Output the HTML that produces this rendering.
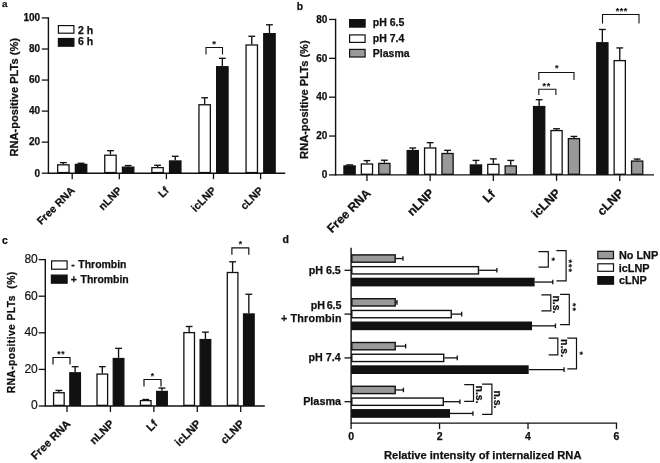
<!DOCTYPE html>
<html lang="en">
<head>
<meta charset="utf-8">
<title>RNA-positive PLTs figure</title>
<style>
html,body{margin:0;padding:0;background:#fff;}
body{width:660px;height:463px;overflow:hidden;}
svg{display:block;}
svg text{font-family:"Liberation Sans",sans-serif;font-weight:700;fill:#111;stroke:#111;stroke-width:0.25px;}
</style>
</head>
<body>
<svg width="660" height="463" viewBox="0 0 660 463">
<rect x="0" y="0" width="660" height="463" fill="#fff"/>
<text x="2.1" y="7.3" font-size="9.8" text-anchor="start">a</text>
<line x1="63.35" y1="164.2" x2="63.35" y2="162.64" stroke="#111" stroke-width="1.35"/>
<line x1="59.95" y1="162.64" x2="66.75" y2="162.64" stroke="#111" stroke-width="1.35"/>
<rect x="57.65" y="164.85" width="11.4" height="7.7" fill="#fff" stroke="#111" stroke-width="1.3"/>
<line x1="81.05" y1="163.73" x2="81.05" y2="163.26" stroke="#111" stroke-width="1.35"/>
<line x1="77.65" y1="163.26" x2="84.45" y2="163.26" stroke="#111" stroke-width="1.35"/>
<rect x="75.35" y="164.38" width="11.4" height="8.17" fill="#111" stroke="#111" stroke-width="1.3"/>
<line x1="110.45" y1="154.57" x2="110.45" y2="150.69" stroke="#111" stroke-width="1.35"/>
<line x1="107.05" y1="150.69" x2="113.85" y2="150.69" stroke="#111" stroke-width="1.35"/>
<rect x="104.75" y="155.22" width="11.4" height="17.33" fill="#fff" stroke="#111" stroke-width="1.3"/>
<line x1="128.15" y1="166.52" x2="128.15" y2="165.59" stroke="#111" stroke-width="1.35"/>
<line x1="124.75" y1="165.59" x2="131.55" y2="165.59" stroke="#111" stroke-width="1.35"/>
<rect x="122.45" y="167.17" width="11.4" height="5.38" fill="#111" stroke="#111" stroke-width="1.3"/>
<line x1="157.55" y1="166.99" x2="157.55" y2="165.28" stroke="#111" stroke-width="1.35"/>
<line x1="154.15" y1="165.28" x2="160.95" y2="165.28" stroke="#111" stroke-width="1.35"/>
<rect x="151.85" y="167.64" width="11.4" height="4.91" fill="#fff" stroke="#111" stroke-width="1.3"/>
<line x1="175.25" y1="160.31" x2="175.25" y2="156.28" stroke="#111" stroke-width="1.35"/>
<line x1="171.85" y1="156.28" x2="178.65" y2="156.28" stroke="#111" stroke-width="1.35"/>
<rect x="169.55" y="160.96" width="11.4" height="11.59" fill="#111" stroke="#111" stroke-width="1.3"/>
<line x1="204.65" y1="104.11" x2="204.65" y2="97.75" stroke="#111" stroke-width="1.35"/>
<line x1="201.25" y1="97.75" x2="208.05" y2="97.75" stroke="#111" stroke-width="1.35"/>
<rect x="198.95" y="104.76" width="11.4" height="67.79" fill="#fff" stroke="#111" stroke-width="1.3"/>
<line x1="222.35" y1="66.08" x2="222.35" y2="58.31" stroke="#111" stroke-width="1.35"/>
<line x1="218.95" y1="58.31" x2="225.75" y2="58.31" stroke="#111" stroke-width="1.35"/>
<rect x="216.65" y="66.73" width="11.4" height="105.82" fill="#111" stroke="#111" stroke-width="1.3"/>
<line x1="251.75" y1="44.34" x2="251.75" y2="36.27" stroke="#111" stroke-width="1.35"/>
<line x1="248.35" y1="36.27" x2="255.15" y2="36.27" stroke="#111" stroke-width="1.35"/>
<rect x="246.05" y="44.99" width="11.4" height="127.56" fill="#fff" stroke="#111" stroke-width="1.3"/>
<line x1="269.45" y1="33.01" x2="269.45" y2="24.78" stroke="#111" stroke-width="1.35"/>
<line x1="266.05" y1="24.78" x2="272.85" y2="24.78" stroke="#111" stroke-width="1.35"/>
<rect x="263.75" y="33.66" width="11.4" height="138.89" fill="#111" stroke="#111" stroke-width="1.3"/>
<line x1="48.4" y1="17.3" x2="48.4" y2="173.85" stroke="#111" stroke-width="1.4"/>
<line x1="48.4" y1="173.2" x2="285.2" y2="173.2" stroke="#111" stroke-width="1.4"/>
<line x1="41.8" y1="173.2" x2="48.4" y2="173.2" stroke="#111" stroke-width="1.3"/>
<text x="40.1" y="176.5" font-size="10" text-anchor="end">0</text>
<line x1="41.8" y1="142.15" x2="48.4" y2="142.15" stroke="#111" stroke-width="1.3"/>
<text x="40.1" y="145.45" font-size="10" text-anchor="end">20</text>
<line x1="41.8" y1="111.1" x2="48.4" y2="111.1" stroke="#111" stroke-width="1.3"/>
<text x="40.1" y="114.4" font-size="10" text-anchor="end">40</text>
<line x1="41.8" y1="80.05" x2="48.4" y2="80.05" stroke="#111" stroke-width="1.3"/>
<text x="40.1" y="83.35" font-size="10" text-anchor="end">60</text>
<line x1="41.8" y1="49" x2="48.4" y2="49" stroke="#111" stroke-width="1.3"/>
<text x="40.1" y="52.3" font-size="10" text-anchor="end">80</text>
<line x1="41.8" y1="17.95" x2="48.4" y2="17.95" stroke="#111" stroke-width="1.3"/>
<text x="40.1" y="21.25" font-size="10" text-anchor="end">100</text>
<line x1="72.2" y1="173.2" x2="72.2" y2="179.2" stroke="#111" stroke-width="1.3"/>
<text x="75.4" y="191.2" font-size="10.6" text-anchor="end" transform="rotate(-45 75.4 191.2)">Free RNA</text>
<line x1="119.3" y1="173.2" x2="119.3" y2="179.2" stroke="#111" stroke-width="1.3"/>
<text x="122.5" y="191.2" font-size="10.6" text-anchor="end" transform="rotate(-45 122.5 191.2)">nLNP</text>
<line x1="166.4" y1="173.2" x2="166.4" y2="179.2" stroke="#111" stroke-width="1.3"/>
<text x="169.6" y="191.2" font-size="10.6" text-anchor="end" transform="rotate(-45 169.6 191.2)">Lf</text>
<line x1="213.5" y1="173.2" x2="213.5" y2="179.2" stroke="#111" stroke-width="1.3"/>
<text x="216.7" y="191.2" font-size="10.6" text-anchor="end" transform="rotate(-45 216.7 191.2)">icLNP</text>
<line x1="260.6" y1="173.2" x2="260.6" y2="179.2" stroke="#111" stroke-width="1.3"/>
<text x="263.8" y="191.2" font-size="10.6" text-anchor="end" transform="rotate(-45 263.8 191.2)">cLNP</text>
<text x="17.8" y="97.3" font-size="11.1" text-anchor="middle" transform="rotate(-90 17.8 97.3)">RNA-positive PLTs (%)</text>
<rect x="58.4" y="25.6" width="15.5" height="7.6" fill="#fff" stroke="#111" stroke-width="1.2"/>
<rect x="58.4" y="38.5" width="15.5" height="7.7" fill="#111" stroke="#111" stroke-width="1.2"/>
<text x="78" y="33.5" font-size="10.5" text-anchor="start">2 h</text>
<text x="78" y="45.3" font-size="10.5" text-anchor="start">6 h</text>
<path d="M206 54.5 V47.5 H222.5 V54.5" fill="none" stroke="#111" stroke-width="1.1"/>
<text x="212.15" y="46.85" font-size="9.5" style="stroke-width:0.12px;letter-spacing:0.3px">*</text>
<text x="296.8" y="9.6" font-size="10.3" text-anchor="start">b</text>
<line x1="349.55" y1="165.28" x2="349.55" y2="164.89" stroke="#111" stroke-width="1.35"/>
<line x1="346.15" y1="164.89" x2="352.95" y2="164.89" stroke="#111" stroke-width="1.35"/>
<rect x="343.95" y="165.93" width="11.2" height="8.32" fill="#111" stroke="#111" stroke-width="1.3"/>
<line x1="366.95" y1="163.34" x2="366.95" y2="160.62" stroke="#111" stroke-width="1.35"/>
<line x1="363.55" y1="160.62" x2="370.35" y2="160.62" stroke="#111" stroke-width="1.35"/>
<rect x="361.35" y="163.99" width="11.2" height="10.26" fill="#fff" stroke="#111" stroke-width="1.3"/>
<line x1="384.35" y1="162.76" x2="384.35" y2="160.23" stroke="#111" stroke-width="1.35"/>
<line x1="380.95" y1="160.23" x2="387.75" y2="160.23" stroke="#111" stroke-width="1.35"/>
<rect x="378.75" y="163.41" width="11.2" height="10.84" fill="#999" stroke="#111" stroke-width="1.3"/>
<line x1="412.75" y1="149.93" x2="412.75" y2="147.99" stroke="#111" stroke-width="1.35"/>
<line x1="409.35" y1="147.99" x2="416.15" y2="147.99" stroke="#111" stroke-width="1.35"/>
<rect x="407.15" y="150.58" width="11.2" height="23.67" fill="#111" stroke="#111" stroke-width="1.3"/>
<line x1="430.15" y1="147.31" x2="430.15" y2="142.65" stroke="#111" stroke-width="1.35"/>
<line x1="426.75" y1="142.65" x2="433.55" y2="142.65" stroke="#111" stroke-width="1.35"/>
<rect x="424.55" y="147.96" width="11.2" height="26.29" fill="#fff" stroke="#111" stroke-width="1.3"/>
<line x1="447.55" y1="152.85" x2="447.55" y2="150.32" stroke="#111" stroke-width="1.35"/>
<line x1="444.15" y1="150.32" x2="450.95" y2="150.32" stroke="#111" stroke-width="1.35"/>
<rect x="441.95" y="153.5" width="11.2" height="20.75" fill="#999" stroke="#111" stroke-width="1.3"/>
<line x1="475.95" y1="164.31" x2="475.95" y2="160.42" stroke="#111" stroke-width="1.35"/>
<line x1="472.55" y1="160.42" x2="479.35" y2="160.42" stroke="#111" stroke-width="1.35"/>
<rect x="470.35" y="164.96" width="11.2" height="9.29" fill="#111" stroke="#111" stroke-width="1.3"/>
<line x1="493.35" y1="163.73" x2="493.35" y2="158.87" stroke="#111" stroke-width="1.35"/>
<line x1="489.95" y1="158.87" x2="496.75" y2="158.87" stroke="#111" stroke-width="1.35"/>
<rect x="487.75" y="164.38" width="11.2" height="9.87" fill="#fff" stroke="#111" stroke-width="1.3"/>
<line x1="510.75" y1="165.28" x2="510.75" y2="160.42" stroke="#111" stroke-width="1.35"/>
<line x1="507.35" y1="160.42" x2="514.15" y2="160.42" stroke="#111" stroke-width="1.35"/>
<rect x="505.15" y="165.93" width="11.2" height="8.32" fill="#999" stroke="#111" stroke-width="1.3"/>
<line x1="539.15" y1="105.92" x2="539.15" y2="99.71" stroke="#111" stroke-width="1.35"/>
<line x1="535.75" y1="99.71" x2="542.55" y2="99.71" stroke="#111" stroke-width="1.35"/>
<rect x="533.55" y="106.57" width="11.2" height="67.68" fill="#111" stroke="#111" stroke-width="1.3"/>
<line x1="556.55" y1="129.92" x2="556.55" y2="128.75" stroke="#111" stroke-width="1.35"/>
<line x1="553.15" y1="128.75" x2="559.95" y2="128.75" stroke="#111" stroke-width="1.35"/>
<rect x="550.95" y="130.57" width="11.2" height="43.68" fill="#fff" stroke="#111" stroke-width="1.3"/>
<line x1="573.95" y1="137.98" x2="573.95" y2="136.43" stroke="#111" stroke-width="1.35"/>
<line x1="570.55" y1="136.43" x2="577.35" y2="136.43" stroke="#111" stroke-width="1.35"/>
<rect x="568.35" y="138.63" width="11.2" height="35.62" fill="#999" stroke="#111" stroke-width="1.3"/>
<line x1="602.35" y1="42.1" x2="602.35" y2="29.47" stroke="#111" stroke-width="1.35"/>
<line x1="598.95" y1="29.47" x2="605.75" y2="29.47" stroke="#111" stroke-width="1.35"/>
<rect x="596.75" y="42.75" width="11.2" height="131.5" fill="#111" stroke="#111" stroke-width="1.3"/>
<line x1="619.75" y1="59.97" x2="619.75" y2="47.92" stroke="#111" stroke-width="1.35"/>
<line x1="616.35" y1="47.92" x2="623.15" y2="47.92" stroke="#111" stroke-width="1.35"/>
<rect x="614.15" y="60.62" width="11.2" height="113.63" fill="#fff" stroke="#111" stroke-width="1.3"/>
<line x1="637.15" y1="160.42" x2="637.15" y2="159.06" stroke="#111" stroke-width="1.35"/>
<line x1="633.75" y1="159.06" x2="640.55" y2="159.06" stroke="#111" stroke-width="1.35"/>
<rect x="631.55" y="161.07" width="11.2" height="13.18" fill="#999" stroke="#111" stroke-width="1.3"/>
<line x1="335.6" y1="18.81" x2="335.6" y2="175.55" stroke="#111" stroke-width="1.4"/>
<line x1="335.6" y1="174.9" x2="654" y2="174.9" stroke="#111" stroke-width="1.4"/>
<line x1="329" y1="174.9" x2="335.6" y2="174.9" stroke="#111" stroke-width="1.3"/>
<text x="327.3" y="178.2" font-size="10" text-anchor="end">0</text>
<line x1="329" y1="136.04" x2="335.6" y2="136.04" stroke="#111" stroke-width="1.3"/>
<text x="327.3" y="139.34" font-size="10" text-anchor="end">20</text>
<line x1="329" y1="97.18" x2="335.6" y2="97.18" stroke="#111" stroke-width="1.3"/>
<text x="327.3" y="100.48" font-size="10" text-anchor="end">40</text>
<line x1="329" y1="58.32" x2="335.6" y2="58.32" stroke="#111" stroke-width="1.3"/>
<text x="327.3" y="61.62" font-size="10" text-anchor="end">60</text>
<line x1="329" y1="19.46" x2="335.6" y2="19.46" stroke="#111" stroke-width="1.3"/>
<text x="327.3" y="22.76" font-size="10" text-anchor="end">80</text>
<line x1="366.95" y1="174.9" x2="366.95" y2="180.9" stroke="#111" stroke-width="1.3"/>
<text x="371.65" y="193.9" font-size="12.3" text-anchor="end" transform="rotate(-45 371.65 193.9)">Free RNA</text>
<line x1="430.15" y1="174.9" x2="430.15" y2="180.9" stroke="#111" stroke-width="1.3"/>
<text x="434.85" y="193.9" font-size="12.3" text-anchor="end" transform="rotate(-45 434.85 193.9)">nLNP</text>
<line x1="493.35" y1="174.9" x2="493.35" y2="180.9" stroke="#111" stroke-width="1.3"/>
<text x="495.85" y="195.1" font-size="12.3" text-anchor="end" transform="rotate(-45 495.85 195.1)">Lf</text>
<line x1="556.55" y1="174.9" x2="556.55" y2="180.9" stroke="#111" stroke-width="1.3"/>
<text x="561.25" y="193.9" font-size="12.3" text-anchor="end" transform="rotate(-45 561.25 193.9)">icLNP</text>
<line x1="619.75" y1="174.9" x2="619.75" y2="180.9" stroke="#111" stroke-width="1.3"/>
<text x="624.45" y="193.9" font-size="12.3" text-anchor="end" transform="rotate(-45 624.45 193.9)">cLNP</text>
<text x="307.8" y="99.6" font-size="11.1" text-anchor="middle" transform="rotate(-90 307.8 99.6)">RNA-positive PLTs (%)</text>
<rect x="349.6" y="19.6" width="15.5" height="7.5" fill="#111" stroke="#111" stroke-width="1.2"/>
<rect x="349.6" y="34.9" width="15.5" height="7.5" fill="#fff" stroke="#111" stroke-width="1.2"/>
<rect x="349.6" y="49.4" width="15.5" height="7.6" fill="#999" stroke="#111" stroke-width="1.2"/>
<text x="372.8" y="26.4" font-size="10.5" text-anchor="start">pH 6.5</text>
<text x="372.8" y="41.5" font-size="10.5" text-anchor="start">pH 7.4</text>
<text x="372.8" y="56.6" font-size="10.5" text-anchor="start">Plasma</text>
<path d="M538.8 94.9 V89.2 H555.9 V94.9" fill="none" stroke="#111" stroke-width="1.1"/>
<text x="542.6" y="89.25" font-size="9" style="stroke-width:0.12px;letter-spacing:0.6px">**</text>
<path d="M538.8 80 V72.5 H574 V80" fill="none" stroke="#111" stroke-width="1.1"/>
<text x="554.95" y="71.25" font-size="9" style="stroke-width:0.12px;letter-spacing:0.6px">*</text>
<path d="M602.5 23.5 V14.5 H639 V23.5" fill="none" stroke="#111" stroke-width="1.1"/>
<text x="615.65" y="13.7" font-size="9" style="stroke-width:0.12px;letter-spacing:0.6px">***</text>
<text x="2" y="244.2" font-size="10.5" text-anchor="start">c</text>
<line x1="58.88" y1="392.09" x2="58.88" y2="390.44" stroke="#111" stroke-width="1.35"/>
<line x1="55.48" y1="390.44" x2="62.27" y2="390.44" stroke="#111" stroke-width="1.35"/>
<rect x="53.57" y="392.74" width="10.6" height="12.61" fill="#fff" stroke="#111" stroke-width="1.3"/>
<line x1="75.12" y1="372.14" x2="75.12" y2="366.65" stroke="#111" stroke-width="1.35"/>
<line x1="71.72" y1="366.65" x2="78.53" y2="366.65" stroke="#111" stroke-width="1.35"/>
<rect x="69.83" y="372.79" width="10.6" height="32.56" fill="#111" stroke="#111" stroke-width="1.3"/>
<line x1="102.31" y1="373.43" x2="102.31" y2="366.65" stroke="#111" stroke-width="1.35"/>
<line x1="98.91" y1="366.65" x2="105.71" y2="366.65" stroke="#111" stroke-width="1.35"/>
<rect x="97.01" y="374.08" width="10.6" height="31.27" fill="#fff" stroke="#111" stroke-width="1.3"/>
<line x1="118.56" y1="357.87" x2="118.56" y2="348.36" stroke="#111" stroke-width="1.35"/>
<line x1="115.16" y1="348.36" x2="121.96" y2="348.36" stroke="#111" stroke-width="1.35"/>
<rect x="113.26" y="358.52" width="10.6" height="46.83" fill="#111" stroke="#111" stroke-width="1.3"/>
<line x1="145.74" y1="399.96" x2="145.74" y2="399.5" stroke="#111" stroke-width="1.35"/>
<line x1="142.34" y1="399.5" x2="149.14" y2="399.5" stroke="#111" stroke-width="1.35"/>
<rect x="140.44" y="400.61" width="10.6" height="4.74" fill="#fff" stroke="#111" stroke-width="1.3"/>
<line x1="161.99" y1="390.81" x2="161.99" y2="388.07" stroke="#111" stroke-width="1.35"/>
<line x1="158.59" y1="388.07" x2="165.39" y2="388.07" stroke="#111" stroke-width="1.35"/>
<rect x="156.69" y="391.46" width="10.6" height="13.89" fill="#111" stroke="#111" stroke-width="1.3"/>
<line x1="189.16" y1="331.98" x2="189.16" y2="326.49" stroke="#111" stroke-width="1.35"/>
<line x1="185.76" y1="326.49" x2="192.56" y2="326.49" stroke="#111" stroke-width="1.35"/>
<rect x="183.87" y="332.63" width="10.6" height="72.72" fill="#fff" stroke="#111" stroke-width="1.3"/>
<line x1="205.41" y1="338.93" x2="205.41" y2="332.16" stroke="#111" stroke-width="1.35"/>
<line x1="202.01" y1="332.16" x2="208.81" y2="332.16" stroke="#111" stroke-width="1.35"/>
<rect x="200.12" y="339.58" width="10.6" height="65.77" fill="#111" stroke="#111" stroke-width="1.3"/>
<line x1="232.59" y1="271.86" x2="232.59" y2="261.8" stroke="#111" stroke-width="1.35"/>
<line x1="229.19" y1="261.8" x2="236" y2="261.8" stroke="#111" stroke-width="1.35"/>
<rect x="227.3" y="272.51" width="10.6" height="132.84" fill="#fff" stroke="#111" stroke-width="1.3"/>
<line x1="248.84" y1="313.31" x2="248.84" y2="294.28" stroke="#111" stroke-width="1.35"/>
<line x1="245.44" y1="294.28" x2="252.25" y2="294.28" stroke="#111" stroke-width="1.35"/>
<rect x="243.55" y="313.96" width="10.6" height="91.39" fill="#111" stroke="#111" stroke-width="1.3"/>
<line x1="45.3" y1="258.95" x2="45.3" y2="406.65" stroke="#111" stroke-width="1.4"/>
<line x1="45.3" y1="406" x2="264.8" y2="406" stroke="#111" stroke-width="1.4"/>
<line x1="38.7" y1="406" x2="45.3" y2="406" stroke="#111" stroke-width="1.3"/>
<text x="37.8" y="409.48" font-size="12" text-anchor="end" style="font-weight:400;stroke-width:0.2px">0</text>
<line x1="38.7" y1="369.4" x2="45.3" y2="369.4" stroke="#111" stroke-width="1.3"/>
<text x="37.8" y="372.88" font-size="12" text-anchor="end" style="font-weight:400;stroke-width:0.2px">20</text>
<line x1="38.7" y1="332.8" x2="45.3" y2="332.8" stroke="#111" stroke-width="1.3"/>
<text x="37.8" y="336.28" font-size="12" text-anchor="end" style="font-weight:400;stroke-width:0.2px">40</text>
<line x1="38.7" y1="296.2" x2="45.3" y2="296.2" stroke="#111" stroke-width="1.3"/>
<text x="37.8" y="299.68" font-size="12" text-anchor="end" style="font-weight:400;stroke-width:0.2px">60</text>
<line x1="38.7" y1="259.6" x2="45.3" y2="259.6" stroke="#111" stroke-width="1.3"/>
<text x="37.8" y="263.08" font-size="12" text-anchor="end" style="font-weight:400;stroke-width:0.2px">80</text>
<line x1="67" y1="406" x2="67" y2="412" stroke="#111" stroke-width="1.3"/>
<text x="71.3" y="424.5" font-size="11.1" text-anchor="end" transform="rotate(-45 71.3 424.5)">Free RNA</text>
<line x1="110.43" y1="406" x2="110.43" y2="412" stroke="#111" stroke-width="1.3"/>
<text x="114.73" y="424.5" font-size="11.1" text-anchor="end" transform="rotate(-45 114.73 424.5)">nLNP</text>
<line x1="153.86" y1="406" x2="153.86" y2="412" stroke="#111" stroke-width="1.3"/>
<text x="158.16" y="424.5" font-size="11.1" text-anchor="end" transform="rotate(-45 158.16 424.5)">Lf</text>
<line x1="197.29" y1="406" x2="197.29" y2="412" stroke="#111" stroke-width="1.3"/>
<text x="201.59" y="424.5" font-size="11.1" text-anchor="end" transform="rotate(-45 201.59 424.5)">icLNP</text>
<line x1="240.72" y1="406" x2="240.72" y2="412" stroke="#111" stroke-width="1.3"/>
<text x="245.02" y="424.5" font-size="11.1" text-anchor="end" transform="rotate(-45 245.02 424.5)">cLNP</text>
<text x="14.7" y="332.4" font-size="10.3" text-anchor="middle" transform="rotate(-90 14.7 332.4)" style="letter-spacing:0.41px">RNA-positive PLTs&#160;&#160;(%)</text>
<rect x="51.6" y="260.9" width="15.5" height="8.3" fill="#fff" stroke="#111" stroke-width="1.2"/>
<rect x="51.4" y="275.1" width="15.7" height="8.1" fill="#111" stroke="#111" stroke-width="1.2"/>
<text x="71.2" y="267.6" font-size="10.45" text-anchor="start" style="word-spacing:0.8px">- Thrombin</text>
<text x="70.8" y="282.8" font-size="10.45" text-anchor="start" style="word-spacing:0.8px">+ Thrombin</text>
<path d="M53 364.5 V357.5 H70 V364.5" fill="none" stroke="#111" stroke-width="1.2"/>
<text x="57.35" y="357.05" font-size="8.5" style="stroke-width:0.12px;letter-spacing:0.69px">**</text>
<path d="M144 386.5 V379.5 H161 V386.5" fill="none" stroke="#111" stroke-width="1.2"/>
<text x="150.85" y="378.75" font-size="8.5" style="stroke-width:0.12px;letter-spacing:0.69px">*</text>
<path d="M231.9 254.8 V247.9 H248.8 V254.8" fill="none" stroke="#111" stroke-width="1.2"/>
<text x="238.85" y="247.05" font-size="8.5" style="stroke-width:0.12px;letter-spacing:0.69px">*</text>
<text x="282.5" y="243.2" font-size="10.5" text-anchor="start">d</text>
<line x1="395.9" y1="258.55" x2="402.98" y2="258.55" stroke="#111" stroke-width="1.3"/>
<line x1="402.98" y1="256.25" x2="402.98" y2="260.85" stroke="#111" stroke-width="1.3"/>
<rect x="351.8" y="254.9" width="43.4" height="7.3" fill="#999" stroke="#111" stroke-width="1.4"/>
<line x1="479.19" y1="270.3" x2="496.88" y2="270.3" stroke="#111" stroke-width="1.3"/>
<line x1="496.88" y1="268" x2="496.88" y2="272.6" stroke="#111" stroke-width="1.3"/>
<rect x="351.8" y="266.65" width="126.69" height="7.3" fill="#fff" stroke="#111" stroke-width="1.4"/>
<line x1="534.65" y1="282.05" x2="552.79" y2="282.05" stroke="#111" stroke-width="1.3"/>
<line x1="552.79" y1="279.75" x2="552.79" y2="284.35" stroke="#111" stroke-width="1.3"/>
<rect x="351.8" y="278.4" width="182.15" height="7.3" fill="#111" stroke="#111" stroke-width="1.4"/>
<line x1="395.9" y1="302.35" x2="397.01" y2="302.35" stroke="#111" stroke-width="1.3"/>
<line x1="397.01" y1="300.05" x2="397.01" y2="304.65" stroke="#111" stroke-width="1.3"/>
<rect x="351.8" y="298.7" width="43.4" height="7.3" fill="#999" stroke="#111" stroke-width="1.4"/>
<line x1="451.94" y1="314.1" x2="461.68" y2="314.1" stroke="#111" stroke-width="1.3"/>
<line x1="461.68" y1="311.8" x2="461.68" y2="316.4" stroke="#111" stroke-width="1.3"/>
<rect x="351.8" y="310.45" width="99.44" height="7.3" fill="#fff" stroke="#111" stroke-width="1.4"/>
<line x1="532" y1="325.85" x2="555.44" y2="325.85" stroke="#111" stroke-width="1.3"/>
<line x1="555.44" y1="323.55" x2="555.44" y2="328.15" stroke="#111" stroke-width="1.3"/>
<rect x="351.8" y="322.2" width="179.5" height="7.3" fill="#111" stroke="#111" stroke-width="1.4"/>
<line x1="395.9" y1="346.15" x2="405.64" y2="346.15" stroke="#111" stroke-width="1.3"/>
<line x1="405.64" y1="343.85" x2="405.64" y2="348.45" stroke="#111" stroke-width="1.3"/>
<rect x="351.8" y="342.5" width="43.4" height="7.3" fill="#999" stroke="#111" stroke-width="1.4"/>
<line x1="444.43" y1="357.9" x2="457.25" y2="357.9" stroke="#111" stroke-width="1.3"/>
<line x1="457.25" y1="355.6" x2="457.25" y2="360.2" stroke="#111" stroke-width="1.3"/>
<rect x="351.8" y="354.25" width="91.93" height="7.3" fill="#fff" stroke="#111" stroke-width="1.4"/>
<line x1="528.68" y1="369.65" x2="564.07" y2="369.65" stroke="#111" stroke-width="1.3"/>
<line x1="564.07" y1="367.35" x2="564.07" y2="371.95" stroke="#111" stroke-width="1.3"/>
<rect x="351.8" y="366" width="176.18" height="7.3" fill="#111" stroke="#111" stroke-width="1.4"/>
<line x1="395.9" y1="389.95" x2="403.42" y2="389.95" stroke="#111" stroke-width="1.3"/>
<line x1="403.42" y1="387.65" x2="403.42" y2="392.25" stroke="#111" stroke-width="1.3"/>
<rect x="351.8" y="386.3" width="43.4" height="7.3" fill="#999" stroke="#111" stroke-width="1.4"/>
<line x1="443.98" y1="401.7" x2="459.91" y2="401.7" stroke="#111" stroke-width="1.3"/>
<line x1="459.91" y1="399.4" x2="459.91" y2="404" stroke="#111" stroke-width="1.3"/>
<rect x="351.8" y="398.05" width="91.48" height="7.3" fill="#fff" stroke="#111" stroke-width="1.4"/>
<line x1="450.04" y1="413.45" x2="472.95" y2="413.45" stroke="#111" stroke-width="1.3"/>
<line x1="472.95" y1="411.15" x2="472.95" y2="415.75" stroke="#111" stroke-width="1.3"/>
<rect x="351.8" y="409.8" width="97.54" height="7.3" fill="#111" stroke="#111" stroke-width="1.4"/>
<line x1="351.1" y1="247.8" x2="351.1" y2="423.75" stroke="#111" stroke-width="1.4"/>
<line x1="351.1" y1="423.1" x2="617.15" y2="423.1" stroke="#111" stroke-width="1.4"/>
<line x1="351.1" y1="423.1" x2="351.1" y2="429" stroke="#111" stroke-width="1.3"/>
<text x="351.1" y="440.4" font-size="10.5" text-anchor="middle">0</text>
<line x1="439.56" y1="423.1" x2="439.56" y2="429" stroke="#111" stroke-width="1.3"/>
<text x="439.56" y="440.4" font-size="10.5" text-anchor="middle">2</text>
<line x1="528.02" y1="423.1" x2="528.02" y2="429" stroke="#111" stroke-width="1.3"/>
<text x="528.02" y="440.4" font-size="10.5" text-anchor="middle">4</text>
<line x1="616.48" y1="423.1" x2="616.48" y2="429" stroke="#111" stroke-width="1.3"/>
<text x="616.48" y="440.4" font-size="10.5" text-anchor="middle">6</text>
<line x1="344.5" y1="270.3" x2="351.1" y2="270.3" stroke="#111" stroke-width="1.3"/>
<line x1="344.5" y1="314.1" x2="351.1" y2="314.1" stroke="#111" stroke-width="1.3"/>
<line x1="344.5" y1="357.9" x2="351.1" y2="357.9" stroke="#111" stroke-width="1.3"/>
<line x1="344.5" y1="401.7" x2="351.1" y2="401.7" stroke="#111" stroke-width="1.3"/>
<text x="340.8" y="273.6" font-size="10.7" text-anchor="end">pH 6.5</text>
<text x="341.5" y="308.6" font-size="10.7" text-anchor="end" style="word-spacing:-1.2px">pH 6.5</text>
<text x="341.5" y="321.8" font-size="10.8" text-anchor="end" textLength="60.5" lengthAdjust="spacing">+ Thrombin</text>
<text x="340.6" y="361.3" font-size="10.7" text-anchor="end">pH 7.4</text>
<text x="341" y="405.1" font-size="10.8" text-anchor="end">Plasma</text>
<text x="482.7" y="458.8" font-size="11.15" text-anchor="middle">Relative intensity of internalized RNA</text>
<rect x="597.8" y="251.3" width="15.7" height="7.4" fill="#999" stroke="#111" stroke-width="1.2"/>
<rect x="597.8" y="263.8" width="15.7" height="7.5" fill="#fff" stroke="#111" stroke-width="1.2"/>
<rect x="597.8" y="276.6" width="15.7" height="7.6" fill="#111" stroke="#111" stroke-width="1.2"/>
<text x="619" y="258.6" font-size="10.85" text-anchor="start">No LNP</text>
<text x="618.8" y="271.6" font-size="10.85" text-anchor="start">icLNP</text>
<text x="619" y="284.3" font-size="10.85" text-anchor="start">cLNP</text>
<path d="M538.5 251.6 H548.3 V267.1 H538.5" fill="none" stroke="#111" stroke-width="1.2"/>
<text x="548.9" y="257.45" font-size="9" transform="rotate(90 548.9 257.45)" style="stroke-width:0.12px;letter-spacing:1px">*</text>
<path d="M556.4 250.7 H566.1 V280.9 H556.4" fill="none" stroke="#111" stroke-width="1.2"/>
<text x="565.9" y="259.45" font-size="9" transform="rotate(90 565.9 259.45)" style="stroke-width:0.12px;letter-spacing:1px">***</text>
<path d="M541.4 294.9 H550.8 V310.9 H541.4" fill="none" stroke="#111" stroke-width="1.2"/>
<text x="553.2" y="304.5" font-size="10.5" text-anchor="middle" transform="rotate(90 553.2 304.5)">n.s.</text>
<path d="M560.1 294.3 H569.3 V324.7 H560.1" fill="none" stroke="#111" stroke-width="1.2"/>
<text x="569.9" y="303" font-size="9" transform="rotate(90 569.9 303)" style="stroke-width:0.12px;letter-spacing:1px">**</text>
<path d="M548.6 338.2 H557.8 V354.8 H548.6" fill="none" stroke="#111" stroke-width="1.2"/>
<text x="560.7" y="348.1" font-size="10.5" text-anchor="middle" transform="rotate(90 560.7 348.1)">n.s.</text>
<path d="M567.3 338.1 H576.5 V368.8 H567.3" fill="none" stroke="#111" stroke-width="1.2"/>
<text x="576.5" y="351.45" font-size="9" transform="rotate(90 576.5 351.45)" style="stroke-width:0.12px;letter-spacing:1px">*</text>
<path d="M464.2 384.6 H473.5 V401.3 H464.2" fill="none" stroke="#111" stroke-width="1.2"/>
<text x="475.7" y="394.6" font-size="10.5" text-anchor="middle" transform="rotate(90 475.7 394.6)">n.s.</text>
<path d="M482.1 384.2 H491.9 V414.3 H482.1" fill="none" stroke="#111" stroke-width="1.2"/>
<text x="494.3" y="399.5" font-size="10.5" text-anchor="middle" transform="rotate(90 494.3 399.5)">n.s.</text>
</svg>
</body>
</html>
